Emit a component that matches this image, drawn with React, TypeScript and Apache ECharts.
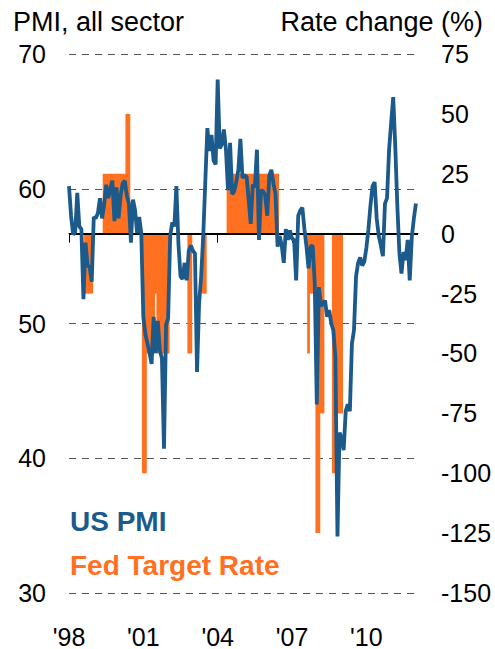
import React, { useEffect, useRef } from "react";
import * as echarts from "echarts";

// Monthly categories: Jan 1998 .. Feb 2012
const START_YEAR = 1998;
const MONTH_COUNT = 170;
const months: string[] = [];
for (let i = 0; i < MONTH_COUNT; i++) {
  const y = START_YEAR + Math.floor(i / 12);
  const m = (i % 12) + 1;
  months.push(`${y}-${m < 10 ? "0" + m : m}`);
}

// US PMI (all sector), monthly
const pmi1998 = [60.2, 58.0, 56.6, 56.8, 59.7, 57.2, 57.0, 51.8, 56.0, 54.3, 54.2, 53.1];
const pmi1999 = [57.9, 57.8, 58.2, 59.3, 57.8, 58.8, 60.3, 59.3, 60.0, 60.6, 57.6, 60.1];
const pmi2000 = [57.8, 59.5, 60.4, 60.6, 59.5, 58.9, 56.0, 59.2, 58.4, 56.7, 57.9, 56.7];
const pmi2001 = [50.5, 49.2, 48.5, 47.8, 47.0, 50.5, 47.8, 50.2, 48.0, 47.4, 40.7, 49.9];
const pmi2002 = [50.4, 56.5, 57.5, 57.2, 60.2, 55.9, 53.5, 53.3, 54.5, 53.2, 55.4, 55.8];
const pmi2003 = [55.4, 55.2, 46.4, 51.5, 53.5, 56.5, 60.5, 64.5, 62.8, 64.0, 62.1, 61.8];
const pmi2004 = [68.1, 63.0, 63.3, 64.4, 62.9, 59.9, 63.4, 59.6, 59.8, 60.5, 61.4, 63.7];
const pmi2005 = [60.8, 61.0, 60.9, 59.2, 57.4, 60.3, 60.1, 62.9, 56.2, 59.9, 59.8, 59.5];
const pmi2006 = [58.0, 61.0, 61.4, 60.4, 59.6, 55.7, 56.5, 55.8, 54.5, 57.0, 56.2, 56.9];
const pmi2007 = [56.3, 56.2, 53.2, 58.0, 58.4, 58.6, 57.0, 55.7, 54.1, 55.7, 55.8, 53.0];
const pmi2008 = [44.0, 52.7, 51.3, 51.5, 51.7, 50.5, 51.0, 50.0, 49.5, 47.5, 34.2, 41.9];
const pmi2009 = [41.5, 40.6, 43.5, 44.0, 43.5, 48.5, 49.5, 53.5, 54.5, 54.9, 54.3, 54.6];
const pmi2010 = [55.6, 57.0, 58.8, 60.2, 60.5, 57.8, 56.5, 55.8, 55.0, 58.9, 59.3, 62.9];
const pmi2011 = [64.9, 66.8, 63.1, 58.7, 55.2, 53.7, 55.3, 54.7, 56.2, 53.2, 56.4, 57.8];
const pmi2012 = [58.9];

const pmiValues: (number | null)[] = [
  ...pmi1998, ...pmi1999, ...pmi2000, ...pmi2001, ...pmi2002, ...pmi2003, ...pmi2004,
  ...pmi2005, ...pmi2006, ...pmi2007, ...pmi2008, ...pmi2009, ...pmi2010, ...pmi2011, ...pmi2012,
];

// Fed target rate change (bp), as held over month ranges: [from, to, value]
const rateBlocks: [string, string, number][] = [
  ["1998-09", "1998-12", -25],
  ["1999-06", "2000-04", 25],
  ["2000-05", "2000-06", 50],
  ["2001-01", "2001-02", -100],
  ["2001-03", "2001-06", -50],
  ["2001-07", "2001-07", -25],
  ["2001-08", "2002-01", -50],
  ["2002-11", "2002-12", -50],
  ["2003-06", "2003-07", -25],
  ["2004-06", "2006-06", 25],
  ["2007-09", "2007-09", -50],
  ["2007-10", "2007-12", -25],
  ["2008-01", "2008-02", -125],
  ["2008-03", "2008-04", -75],
  ["2008-09", "2008-10", -100],
  ["2008-11", "2009-01", -75],
];

const rateValues: (number | null)[] = months.map(() => null);
rateBlocks.forEach(([from, to, v]) => {
  const a = months.indexOf(from);
  const b = months.indexOf(to);
  for (let i = a; i <= b; i++) rateValues[i] = v;
});

const xTickEvery = 36;
const FONT = "'Liberation Sans', Arial, sans-serif";
const BLUE = "#1B5A8A";
const ORANGE = "#FF7020";

export default function App() {
  const ref = useRef<HTMLDivElement>(null);
  useEffect(() => {
    if (!ref.current) return;
    const chart = echarts.init(ref.current, undefined, { renderer: "svg" });
    chart.setOption({
      animation: false,
      backgroundColor: "#fff",
      textStyle: { fontFamily: FONT },
      grid: { left: 69, right: 77, top: 54, bottom: 56, containLabel: false },
      xAxis: {
        type: "category",
        data: months,
        boundaryGap: false,
        axisLine: { show: true, lineStyle: { color: "#000", width: 1 } },
        axisTick: {
          show: true,
          length: 9,
          interval: (i: number) => i % xTickEvery === 0,
          lineStyle: { color: "#000" },
        },
        axisLabel: {
          interval: (i: number) => i % xTickEvery === 0,
          formatter: (v: string) => "'" + v.slice(2, 4),
          fontSize: 25,
          color: "#000",
          margin: 31,
          fontFamily: FONT,
        },
        splitLine: { show: false },
      },
      yAxis: [
        {
          type: "value",
          position: "left",
          min: 30,
          max: 70,
          interval: 10,
          axisLine: { show: false },
          axisTick: { show: false },
          axisLabel: { fontSize: 25, color: "#000", margin: 23, fontFamily: FONT },
          splitLine: {
            show: true,
            lineStyle: { color: "#555", width: 1.2, type: [7, 6] },
          },
        },
        {
          type: "value",
          position: "right",
          min: -150,
          max: 75,
          interval: 25,
          axisLine: { show: false },
          axisTick: { show: false },
          axisLabel: { fontSize: 25, color: "#000", margin: 23, fontFamily: FONT },
          splitLine: { show: false },
        },
      ],
      series: [
        {
          type: "bar",
          name: "Fed Target Rate",
          yAxisIndex: 1,
          data: rateValues,
          barWidth: 2.8,
          barGap: "0%",
          itemStyle: { color: ORANGE },
          z: 2,
          markLine: {
            silent: true,
            symbol: "none",
            label: { show: false },
            lineStyle: { color: "#000", type: "solid", width: 2 },
            data: [{ yAxis: 0 }],
            z: 3,
          },
        },
        {
          type: "line",
          name: "US PMI",
          yAxisIndex: 0,
          data: pmiValues,
          showSymbol: false,
          lineStyle: { color: BLUE, width: 3.8 },
          itemStyle: { color: BLUE },
          z: 4,
        },
      ],
      graphic: [
        {
          type: "text",
          left: 13,
          top: 8,
          style: { text: "PMI, all sector", font: `27px ${FONT}`, fill: "#000" },
        },
        {
          type: "text",
          right: 12,
          top: 8,
          style: { text: "Rate change (%)", font: `27px ${FONT}`, fill: "#000" },
        },
        {
          type: "text",
          left: 70,
          top: 507,
          style: { text: "US PMI", font: `bold 28px ${FONT}`, fill: BLUE },
        },
        {
          type: "text",
          left: 70,
          top: 551,
          style: { text: "Fed Target Rate", font: `bold 28px ${FONT}`, fill: ORANGE },
        },
      ],
    });
    return () => chart.dispose();
  }, []);
  return (
    <div
      ref={ref}
      style={{ position: "fixed", left: 0, top: 0, width: 495, height: 649, background: "#fff" }}
    />
  );
}
